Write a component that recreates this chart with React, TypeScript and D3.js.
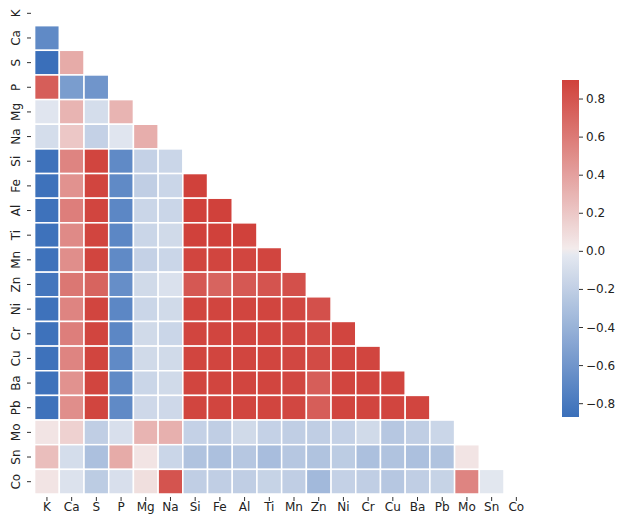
import React from "react";
import * as d3 from "d3";

// Element names, top-to-bottom / left-to-right
const elements = ["K", "Ca", "S", "P", "Mg", "Na", "Si", "Fe", "Al", "Ti", "Mn", "Zn", "Ni", "Cr", "Cu", "Ba", "Pb", "Mo", "Sn", "Co"];

// Lower-triangle correlation coefficients, one array per row (columns K.. up to the diagonal)
const rowK: number[] = [];
const rowCa = [-0.68];
const rowS = [-0.87, 0.35];
const rowP = [0.75, -0.55, -0.6];
const rowMg = [-0.04, 0.3, -0.1, 0.3];
const rowNa = [-0.1, 0.2, -0.18, -0.04, 0.33];
const rowSi = [-0.85, 0.55, 0.88, -0.68, -0.18, -0.15];
const rowFe = [-0.85, 0.48, 0.88, -0.68, -0.2, -0.15, 0.9];
const rowAl = [-0.85, 0.58, 0.88, -0.7, -0.15, -0.15, 0.9, 0.9];
const rowTi = [-0.85, 0.52, 0.88, -0.7, -0.15, -0.12, 0.9, 0.9, 0.9];
const rowMn = [-0.85, 0.5, 0.88, -0.68, -0.18, -0.15, 0.88, 0.88, 0.88, 0.88];
const rowZn = [-0.82, 0.62, 0.72, -0.65, -0.12, -0.07, 0.78, 0.72, 0.78, 0.8, 0.82];
const rowNi = [-0.85, 0.55, 0.88, -0.7, -0.15, -0.12, 0.88, 0.88, 0.88, 0.88, 0.87, 0.82];
const rowCr = [-0.85, 0.58, 0.88, -0.7, -0.12, -0.15, 0.88, 0.88, 0.88, 0.88, 0.87, 0.85, 0.88];
const rowCu = [-0.85, 0.55, 0.88, -0.68, -0.12, -0.12, 0.88, 0.88, 0.88, 0.88, 0.87, 0.85, 0.88, 0.88];
const rowBa = [-0.85, 0.48, 0.88, -0.68, -0.15, -0.12, 0.88, 0.88, 0.88, 0.88, 0.87, 0.75, 0.88, 0.88, 0.88];
const rowPb = [-0.85, 0.5, 0.88, -0.68, -0.13, -0.13, 0.88, 0.88, 0.88, 0.88, 0.87, 0.75, 0.88, 0.88, 0.88, 0.88];
const rowMo = [0.05, 0.15, -0.2, -0.08, 0.3, 0.32, -0.18, -0.2, -0.12, -0.18, -0.2, -0.2, -0.18, -0.12, -0.25, -0.2, -0.15];
const rowSn = [0.25, -0.1, -0.3, 0.35, 0.05, -0.15, -0.28, -0.3, -0.25, -0.32, -0.25, -0.28, -0.22, -0.3, -0.28, -0.3, -0.28, 0.05];
const rowCo = [0.05, -0.06, -0.22, -0.08, 0.08, 0.8, -0.2, -0.2, -0.2, -0.17, -0.2, -0.35, -0.18, -0.2, -0.25, -0.2, -0.17, 0.55, -0.03];

const rows = [rowK, rowCa, rowS, rowP, rowMg, rowNa, rowSi, rowFe, rowAl, rowTi, rowMn, rowZn, rowNi, rowCr, rowCu, rowBa, rowPb, rowMo, rowSn, rowCo];

const colorbarTicks = [-0.8, -0.6, -0.4, -0.2, 0.0, 0.2, 0.4, 0.6, 0.8];

const W = 619;
const H = 515;
const FONT = "DejaVu Sans, sans-serif";

const cells = rows.flatMap((vals, r) => vals.map((v, c) => ({ r, c, v })));
const allVals = cells.map((d) => d.v);
const vmin = d3.min(allVals) as number;
const vmax = d3.max(allVals) as number;

// Diverging blue - light gray - red map, linear in RGB on each half
const cmap = (t: number) => {
  const neg = d3.interpolateRgb("#3a6fba", "#ebedf2");
  const pos = d3.interpolateRgb("#f3ebeb", "#d0413b");
  if (t < 0.5) return neg(t / 0.5);
  return pos((t - 0.5) / 0.5);
};
const norm = d3.scaleLinear().domain([vmin, vmax]).range([0, 1]).clamp(true);
const color = (v: number) => cmap(norm(v));

export default function App() {
  const x = d3.scaleBand<string>().domain(elements).range([34.6, 528.7]);
  const y = d3.scaleBand<string>().domain(elements).range([1, 494]);
  const bw = x.bandwidth();
  const bh = y.bandwidth();

  const cbX = 562;
  const cbW = 17;
  const cbY = d3.scaleLinear().domain([vmin, vmax]).range([417, 80]);
  const stops = d3.range(0, 1.0001, 0.02);

  const fmt = (v: number) => {
    const s = Math.abs(v).toFixed(1);
    return v < -1e-9 ? "\u2212" + s : s;
  };

  return (
    <div style={{ position: "absolute", left: 0, top: 0 }}>
      <svg width={W} height={H} style={{ display: "block", background: "#fff" }}>
        <defs>
          <linearGradient id="cbgrad" x1="0" y1="1" x2="0" y2="0">
            {stops.map((t) => (
              <stop key={t} offset={t} stopColor={cmap(t)} />
            ))}
          </linearGradient>
        </defs>
        {cells.map((d) => (
          <rect
            key={`${d.r}-${d.c}`}
            x={x(elements[d.c])}
            y={y(elements[d.r])}
            width={bw}
            height={bh}
            fill={color(d.v)}
            stroke="#ffffff"
            strokeWidth={1.5}
          />
        ))}
        {/* y axis */}
        {elements.map((e) => {
          const cy = (y(e) as number) + bh / 2;
          return (
            <g key={"y" + e}>
              <line x1={27} x2={31} y1={cy} y2={cy} stroke="#333" strokeWidth={1} />
              <text
                transform={`translate(20,${cy}) rotate(-90)`}
                textAnchor="middle"
                fontFamily={FONT}
                fontSize={12}
                fill="#222"
              >
                {e}
              </text>
            </g>
          );
        })}
        {/* x axis */}
        {elements.map((e) => {
          const cx = (x(e) as number) + bw / 2;
          return (
            <g key={"x" + e}>
              <line x1={cx} x2={cx} y1={497} y2={501} stroke="#333" strokeWidth={1} />
              <text x={cx} y={511} textAnchor="middle" fontFamily={FONT} fontSize={12} fill="#222">
                {e}
              </text>
            </g>
          );
        })}
        {/* colorbar */}
        <rect x={cbX} y={80} width={cbW} height={337} fill="url(#cbgrad)" />
        {colorbarTicks.map((t) => {
          const ty = cbY(t);
          return (
            <g key={"cb" + t}>
              <line x1={cbX + cbW} x2={cbX + cbW + 4} y1={ty} y2={ty} stroke="#333" strokeWidth={1} />
              <text x={cbX + cbW + 7} y={ty + 4} fontFamily={FONT} fontSize={12} fill="#222">
                {fmt(t)}
              </text>
            </g>
          );
        })}
      </svg>
    </div>
  );
}
